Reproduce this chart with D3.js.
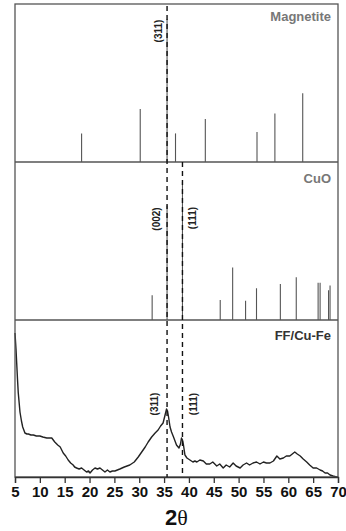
<!DOCTYPE html>
<html>
<head>
<meta charset="utf-8">
<script src="https://cdn.jsdelivr.net/npm/d3@7"></script>
<style>
  body { margin: 0; background: #fff; }
  svg text { font-family: "Liberation Sans", Arimo, "DejaVu Sans", sans-serif; font-weight: bold; }
</style>
</head>
<body>
<div id="chart"></div>
<script>
// reference patterns (2theta, relative intensity)
const magnetitePos = [18.4, 30.2, 35.6, 37.3, 43.3, 53.7, 57.3, 62.9];
const magnetiteInt = [20, 37, 100, 20, 30, 21, 34, 48];

const cuoPos = [32.6, 35.6, 38.7, 46.3, 48.8, 51.4, 53.6, 58.4, 61.6, 66.0, 66.4, 68.1, 68.4];
const cuoInt = [18, 83, 100, 14.5, 38, 14, 23, 26, 31, 27, 27, 21.5, 25];

// measured FF/Cu-Fe pattern (a.u.)
const sampleTheta = [5.0, 5.2, 5.34, 5.5, 5.66, 6.0, 6.3, 6.55, 7.0, 7.4, 7.7, 8.2, 8.7, 9.3, 10.0, 10.6, 11.4, 12.0, 12.4, 13.0, 13.6, 14.1, 14.7, 15.2, 15.7, 16.2, 16.7, 17.0, 17.4, 17.9, 18.4, 18.9, 19.4, 19.8, 20.1, 20.6, 21.1, 21.6, 22.1, 22.6, 23.1, 23.6, 24.1, 24.6, 25.1, 25.6, 26.1, 27.0, 28.1, 29.0, 29.8, 30.5, 31.2, 31.8, 32.5, 33.2, 33.8, 34.3, 34.8, 35.2, 35.5, 35.7, 35.9, 36.2, 36.5, 36.9, 37.2, 37.5, 38.0, 38.3, 38.5, 38.7, 38.9, 39.2, 39.6, 40.2, 40.8, 41.2, 41.6, 42.2, 42.9, 43.5, 44.2, 44.8, 45.6, 46.2, 46.9, 47.5, 48.2, 48.9, 49.5, 50.3, 50.9, 51.6, 52.2, 52.9, 53.6, 54.3, 55.0, 55.6, 56.3, 57.0, 57.7, 58.3, 59.0, 59.6, 60.3, 60.8, 61.3, 61.8, 62.4, 63.0, 63.7, 64.3, 65.0, 65.7, 66.4, 66.9, 67.4, 67.9, 68.4, 69.0, 69.7, 70.0];
const sampleInt = [144, 128, 114, 98, 84, 65, 56, 50, 44, 43, 43, 42, 42, 41, 41, 40, 39, 39, 39, 35, 32, 30, 24, 21, 17, 14, 12, 10, 9, 8, 9, 7, 5, 6, 4, 7, 9, 8, 9, 7, 5, 7, 5, 6, 6, 7, 8, 10, 12, 15, 20, 25, 30, 35, 40, 44, 47, 51, 54, 62, 68, 66, 60, 50, 45, 40, 36, 32, 29, 33, 39, 37, 32, 22, 19, 17, 15, 16, 15, 17, 16, 13, 13, 15, 11, 13, 9, 12, 10, 14, 11, 9, 12, 14, 12, 14, 15, 13, 15, 14, 14, 16, 21, 18, 19, 21, 21, 23, 25, 23, 21, 18, 15, 12, 9, 9, 7, 6, 4, 4, 2, 1, 0, 0];

const xTicks = [5, 10, 15, 20, 25, 30, 35, 40, 45, 50, 55, 60, 65, 70];

const W = 346, H = 531;
const left = 15, right = 338;
const bands = [4, 162, 320, 477];

const svg = d3.select('#chart').append('svg')
  .attr('width', W)
  .attr('height', H);

const x = d3.scaleLinear().domain([5, 70]).range([left, right]);

const yMag = d3.scaleLinear().domain([0, 110.5]).range([bands[1], bands[0]]);
const yCuo = d3.scaleLinear().domain([0, 114.5]).range([bands[2], bands[1]]);
const ySam = d3.scaleLinear().domain([0, 157]).range([bands[3], bands[2]]);

// stick patterns
function sticks(pos, ints, y) {
  svg.append('g').selectAll('line')
    .data(pos.map((p, i) => [p, ints[i]]))
    .join('line')
    .attr('x1', d => x(d[0])).attr('x2', d => x(d[0]))
    .attr('y1', y(0)).attr('y2', d => y(d[1]))
    .attr('stroke', '#555')
    .attr('stroke-width', 1.1);
}
sticks(magnetitePos, magnetiteInt, yMag);
sticks(cuoPos, cuoInt, yCuo);

// sample curve
const line = d3.line().x(d => x(d[0])).y(d => ySam(d[1]));
svg.append('path')
  .datum(sampleTheta.map((t, i) => [t, sampleInt[i]]))
  .attr('d', line)
  .attr('fill', 'none')
  .attr('stroke', '#222')
  .attr('stroke-width', 1.4)
  .attr('stroke-linejoin', 'round');

// frame
svg.append('rect')
  .attr('x', left).attr('y', bands[0])
  .attr('width', right - left).attr('height', bands[3] - bands[0])
  .attr('fill', 'none')
  .attr('stroke', '#555')
  .attr('stroke-width', 1.3);
[bands[1], bands[2]].forEach(b => {
  svg.append('line')
    .attr('x1', left).attr('x2', right)
    .attr('y1', b).attr('y2', b)
    .attr('stroke', '#555')
    .attr('stroke-width', 1.3);
});

// dashed guides
svg.append('line')
  .attr('x1', x(35.6)).attr('x2', x(35.6))
  .attr('y1', bands[0] + 2).attr('y2', bands[3])
  .attr('stroke', '#111').attr('stroke-width', 1.4)
  .attr('stroke-dasharray', '5,4');
svg.append('line')
  .attr('x1', x(38.7)).attr('x2', x(38.7))
  .attr('y1', bands[1]).attr('y2', bands[3])
  .attr('stroke', '#111').attr('stroke-width', 1.4)
  .attr('stroke-dasharray', '5,4');

// x axis
const axis = svg.append('g')
  .attr('transform', `translate(0,${bands[3]})`)
  .call(d3.axisBottom(x).tickValues(xTicks).tickSize(6).tickPadding(3).tickFormat(d3.format('d')));
axis.select('.domain').attr('stroke', '#333').attr('stroke-width', 1.3);
axis.selectAll('.tick line').attr('stroke', '#333').attr('stroke-width', 1.3);
axis.selectAll('.tick text')
  .attr('fill', '#111')
  .style('font-size', '15px')
  .style('font-weight', 'bold')
  .style('font-family', '"Liberation Sans", Arimo, sans-serif');

const title = svg.append('text')
  .attr('x', (left + right) / 2)
  .attr('y', 525)
  .attr('text-anchor', 'middle')
  .attr('fill', '#111')
  .style('font-size', '22px');
title.append('tspan').text('2');
title.append('tspan')
  .style('font-family', '"Liberation Serif", "DejaVu Serif", serif')
  .style('font-weight', 'normal')
  .text('θ');

// panel names
const names = [
  { t: 'Magnetite', y: 21, c: '#777' },
  { t: 'CuO', y: 183, c: '#777' },
  { t: 'FF/Cu-Fe', y: 340, c: '#333' }
];
svg.selectAll('text.name')
  .data(names)
  .join('text')
  .attr('class', 'name')
  .attr('x', 331)
  .attr('y', d => d.y)
  .attr('text-anchor', 'end')
  .attr('fill', d => d.c)
  .style('font-size', '13px')
  .text(d => d.t);

// reflection labels
const hkl = [
  { t: '(311)', x: 158.7, y: 31 },
  { t: '(002)', x: 156.7, y: 219 },
  { t: '(111)', x: 192.7, y: 218 },
  { t: '(311)', x: 154.3, y: 404 },
  { t: '(111)', x: 193.3, y: 404 }
];
svg.selectAll('text.hkl')
  .data(hkl)
  .join('text')
  .attr('class', 'hkl')
  .attr('transform', d => `translate(${d.x},${d.y}) rotate(-90)`)
  .attr('text-anchor', 'middle')
  .attr('dy', '0.35em')
  .attr('fill', '#222')
  .style('font-size', '10px')
  .text(d => d.t);
</script>
</body>
</html>
